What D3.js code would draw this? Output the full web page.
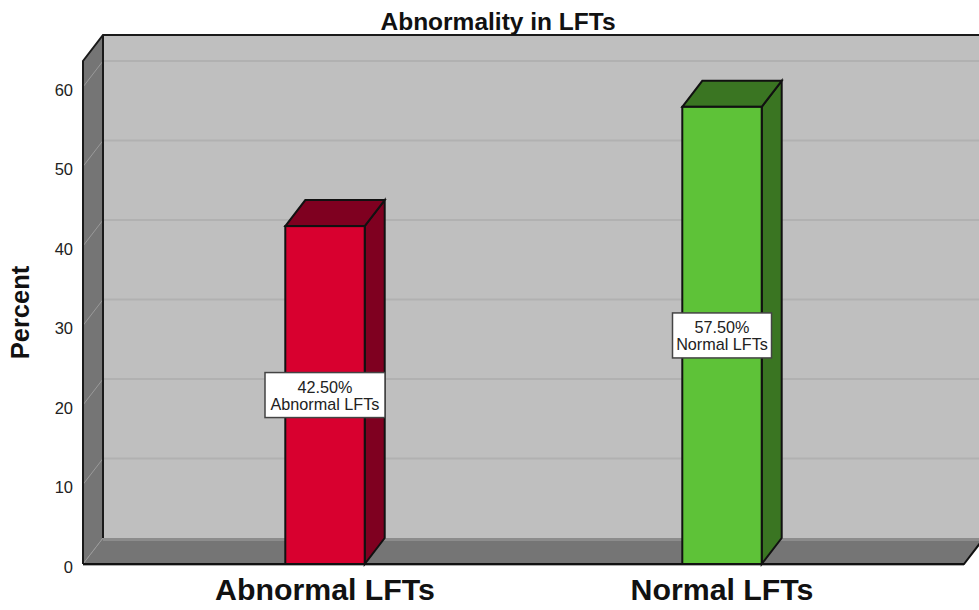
<!DOCTYPE html>
<html>
<head>
<meta charset="utf-8">
<script src="https://cdn.jsdelivr.net/npm/d3@7"></script>
<style>
  html, body { margin: 0; padding: 0; background: #fff; overflow: hidden; }
  text { font-family: "Liberation Sans", Arial, sans-serif; }
</style>
</head>
<body>
<script>
const categories = ["Abnormal LFTs", "Normal LFTs"];
const percents = [42.5, 57.5];
const percentLabels = ["42.50%", "57.50%"];
const barColors = ["#d8002f", "#5ec238"];
const barDarkColors = ["#7f0020", "#3a7522"];
const yTicks = [0, 10, 20, 30, 40, 50, 60];

const w = 979;
const h = 610;
// front plane of the fake 3d box, the back wall sits up and to the right of it
const boxLeft = 83;
const boxBottom = 564;
const boxTop = 61;
const boxRight = 964;
const dx = 20;
const dy = -26;

const svg = d3.select("body").append("svg")
  .attr("width", w)
  .attr("height", h)
  .style("display", "block");

const y = d3.scaleLinear().domain([0, 63.27]).range([boxBottom, boxTop]);
const x = d3.scaleBand().domain(categories).range([126.5, 920.5])
  .paddingInner(0.8).paddingOuter(0.4);

const poly = (pts) => pts.map((p) => p.join(",")).join(" ");

// back wall
svg.append("polygon")
  .attr("points", poly([[boxLeft + dx, boxTop + dy], [boxRight + dx, boxTop + dy], [boxRight + dx, boxBottom + dy], [boxLeft + dx, boxBottom + dy]]))
  .attr("fill", "#bfbfbf");

// left wall
svg.append("polygon")
  .attr("points", poly([[boxLeft, boxTop], [boxLeft + dx, boxTop + dy], [boxLeft + dx, boxBottom + dy], [boxLeft, boxBottom]]))
  .attr("fill", "#757575");

// floor
svg.append("polygon")
  .attr("points", poly([[boxLeft, boxBottom], [boxLeft + dx, boxBottom + dy], [boxRight + dx, boxBottom + dy], [boxRight, boxBottom]]))
  .attr("fill", "#757575");
svg.append("line")
  .attr("x1", boxLeft + dx).attr("x2", w)
  .attr("y1", boxBottom + dy + 1.5).attr("y2", boxBottom + dy + 1.5)
  .attr("stroke", "#8c8c8c").attr("stroke-width", 3);

// gridlines, on the back wall and running down the left wall
yTicks.forEach((t) => {
  if (t > 0) {
    svg.append("line")
      .attr("x1", boxLeft + dx).attr("x2", w)
      .attr("y1", y(t) + dy).attr("y2", y(t) + dy)
      .attr("stroke", "#b1b1b1").attr("stroke-width", 2);
  }
  svg.append("line")
    .attr("x1", boxLeft).attr("x2", boxLeft + dx)
    .attr("y1", y(t)).attr("y2", y(t) + dy)
    .attr("stroke", "#9a9a9a").attr("stroke-width", 1);
});

// box outlines
svg.append("path")
  .attr("d", `M${boxLeft},${boxBottom}V${boxTop}L${boxLeft + dx},${boxTop + dy}H${w}`)
  .attr("fill", "none").attr("stroke", "#1a1a1a").attr("stroke-width", 2);
svg.append("line")
  .attr("x1", boxLeft + dx).attr("x2", boxLeft + dx)
  .attr("y1", boxTop + dy).attr("y2", boxBottom + dy)
  .attr("stroke", "#1a1a1a").attr("stroke-width", 2);
svg.append("path")
  .attr("d", `M${boxLeft},${boxBottom}H${boxRight}L${boxRight + dx},${boxBottom + dy}`)
  .attr("fill", "none").attr("stroke", "#111").attr("stroke-width", 2);
svg.append("line")
  .attr("x1", boxLeft).attr("x2", boxRight)
  .attr("y1", boxBottom + 1.5).attr("y2", boxBottom + 1.5)
  .attr("stroke", "#aaa").attr("stroke-width", 1);

// bars
const bars = svg.selectAll("g.bar")
  .data(categories)
  .enter()
  .append("g")
  .attr("class", "bar");

bars.each(function(d, i) {
  const g = d3.select(this);
  const x0 = x(d);
  const x1 = x0 + x.bandwidth();
  const yTop = y(percents[i]);
  g.append("polygon")
    .attr("points", poly([[x1, yTop], [x1 + dx, yTop + dy], [x1 + dx, boxBottom + dy], [x1, boxBottom]]))
    .attr("fill", barDarkColors[i]).attr("stroke", "#111").attr("stroke-width", 2);
  g.append("polygon")
    .attr("points", poly([[x0, yTop], [x0 + dx, yTop + dy], [x1 + dx, yTop + dy], [x1, yTop]]))
    .attr("fill", barDarkColors[i]).attr("stroke", "#111").attr("stroke-width", 2);
  g.append("rect")
    .attr("x", x0).attr("y", yTop)
    .attr("width", x.bandwidth()).attr("height", boxBottom - yTop)
    .attr("fill", barColors[i]).attr("stroke", "#111").attr("stroke-width", 2);
});

// data labels in the middle of each bar
const boxWidths = [120, 99];
categories.forEach((d, i) => {
  const cx = x(d) + x.bandwidth() / 2;
  const cy = y(percents[i] / 2);
  svg.append("rect")
    .attr("x", cx - boxWidths[i] / 2).attr("y", cy - 22.5)
    .attr("width", boxWidths[i]).attr("height", 45)
    .attr("fill", "#fff").attr("stroke", "#444").attr("stroke-width", 1.5);
  svg.append("text")
    .attr("x", cx).attr("y", cy - 2.5)
    .attr("text-anchor", "middle").attr("font-size", 16.2).attr("fill", "#222")
    .text(percentLabels[i]);
  svg.append("text")
    .attr("x", cx).attr("y", cy + 15)
    .attr("text-anchor", "middle").attr("font-size", 16.2).attr("fill", "#222")
    .text(d);
});

// axes
const yAxis = svg.append("g")
  .attr("transform", `translate(${boxLeft - 10},3)`)
  .call(d3.axisLeft(y).tickValues(yTicks).tickSize(0).tickPadding(0));
yAxis.select(".domain").remove();
yAxis.selectAll("text")
  .style("font-family", '"Liberation Sans", Arial, sans-serif')
  .style("font-size", "16.5px").attr("fill", "#222");

const xAxis = svg.append("g")
  .attr("transform", `translate(0,${boxBottom})`)
  .call(d3.axisBottom(x).tickSize(0).tickPadding(14));
xAxis.select(".domain").remove();
xAxis.selectAll("text")
  .style("font-family", '"Liberation Sans", Arial, sans-serif')
  .style("font-size", "30.3px").style("font-weight", "bold").attr("fill", "#111");

// titles
svg.append("text")
  .attr("x", 498).attr("y", 30)
  .attr("text-anchor", "middle")
  .attr("font-size", 24.5).attr("font-weight", "bold").attr("fill", "#111")
  .text("Abnormality in LFTs");

svg.append("text")
  .attr("transform", "translate(29,312.5) rotate(-90)")
  .attr("text-anchor", "middle")
  .attr("font-size", 25.5).attr("font-weight", "bold").attr("fill", "#111")
  .text("Percent");
</script>
</body>
</html>
